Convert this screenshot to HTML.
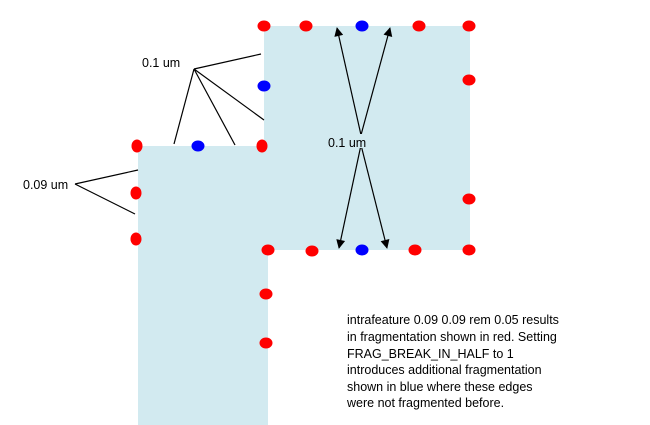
<!DOCTYPE html>
<html><head><meta charset="utf-8"><style>
html,body{margin:0;padding:0;background:#fff;}
svg{display:block;font-family:"Liberation Sans",sans-serif;}
</style></head><body>
<svg width="650" height="425" viewBox="0 0 650 425">
<defs><marker id="ah" viewBox="0 0 10 10" refX="9" refY="5" markerWidth="12" markerHeight="9" orient="auto" markerUnits="userSpaceOnUse"><path d="M0,0 L10,5 L0,10 z" fill="#000"/></marker></defs>
<polygon points="264,26 470,26 470,250 268,250 268,425 138,425 138,146 264,146" fill="#d2eaf0"/>
<g stroke="#000" stroke-width="1.2">
<line x1="194" y1="69" x2="174" y2="144"/><line x1="194" y1="69" x2="235" y2="145"/><line x1="194" y1="69" x2="264" y2="120"/><line x1="194" y1="69" x2="261" y2="54"/>
</g>
<g stroke="#000" stroke-width="1.2">
<line x1="75" y1="184" x2="138" y2="170"/><line x1="75" y1="184" x2="135" y2="214"/>
</g>
<g stroke="#000" stroke-width="1.2" marker-end="url(#ah)">
<line x1="361" y1="135" x2="337" y2="28"/><line x1="361" y1="135" x2="390" y2="28"/>
<line x1="361" y1="145" x2="339" y2="248"/><line x1="361" y1="145" x2="387" y2="248"/>
</g>
<rect x="326" y="134" width="44" height="14" fill="#d2eaf0"/>
<text x="142" y="67" font-size="12.5">0.1 um</text>
<text x="23" y="189" font-size="12.5">0.09 um</text>
<text x="328" y="147" font-size="12.5">0.1 um</text>
<g fill="#ff0000">
<ellipse cx="264" cy="26" rx="6.5" ry="5.5"/><ellipse cx="306" cy="26" rx="6.5" ry="5.5"/><ellipse cx="419" cy="26" rx="6.5" ry="5.5"/><ellipse cx="469" cy="26" rx="6.5" ry="5.5"/>
<ellipse cx="469" cy="80" rx="6.5" ry="5.5"/><ellipse cx="469" cy="199" rx="6.5" ry="5.5"/>
<ellipse cx="268" cy="250" rx="6.5" ry="5.5"/><ellipse cx="312" cy="251" rx="6.5" ry="5.5"/><ellipse cx="415" cy="250" rx="6.5" ry="5.5"/><ellipse cx="469" cy="250" rx="6.5" ry="5.5"/>
<ellipse cx="262" cy="146" rx="5.5" ry="6.5"/><ellipse cx="137" cy="146" rx="5.5" ry="6.5"/>
<ellipse cx="136" cy="193" rx="5.5" ry="6.5"/><ellipse cx="136" cy="239" rx="5.5" ry="6.5"/>
<ellipse cx="266" cy="294" rx="6.5" ry="5.5"/><ellipse cx="266" cy="343" rx="6.5" ry="5.5"/>
</g>
<g fill="#0000ff">
<ellipse cx="362" cy="26" rx="6.5" ry="5.5"/><ellipse cx="362" cy="250" rx="6.5" ry="5.5"/>
<ellipse cx="264" cy="86" rx="6.5" ry="5.5"/><ellipse cx="198" cy="146" rx="6.5" ry="5.5"/>
</g>
<g font-size="12.5" fill="#000">
<text x="347" y="324">intrafeature 0.09 0.09 rem 0.05 results</text>
<text x="347" y="341">in fragmentation shown in red. Setting</text>
<text x="347" y="358">FRAG_BREAK_IN_HALF to 1</text>
<text x="347" y="374">introduces additional fragmentation</text>
<text x="347" y="391">shown in blue where these edges</text>
<text x="347" y="407">were not fragmented before.</text>
</g>
</svg>
</body></html>
